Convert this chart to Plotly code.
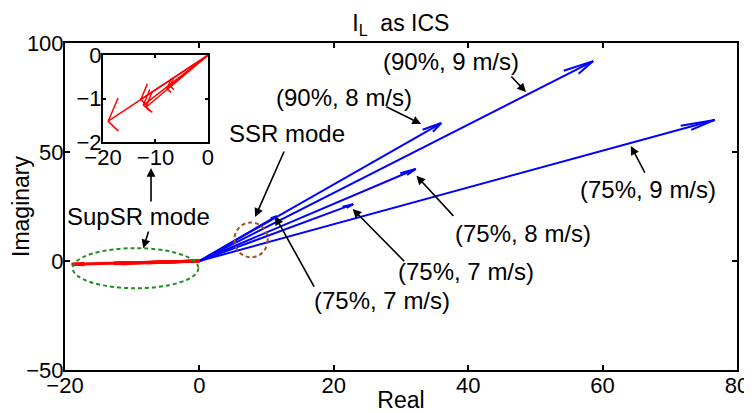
import numpy as np
import plotly.graph_objects as go

# ---------------- data ----------------
# SSR-mode eigen-vectors (blue) and SupSR-mode eigen-vectors (red), complex plane
ssr_real = [58.6, 76.7, 36.0, 32.2, 22.9, 11.5]
ssr_imag = [91.7, 64.7, 63.3, 42.2, 26.1, 20.6]
supsr_real = [-19.0, -12.8, -12.3, -11.8, -7.8, -7.2]
supsr_imag = [-1.52, -1.02, -1.15, -1.20, -0.78, -0.72]

x_ticks = [-20, 0, 20, 40, 60, 80]
y_ticks = [-50, 0, 50, 100]
inset_x_ticks = [-20, -10, 0]
inset_y_ticks = [-2, -1, 0]

label_texts = ["(90%, 9 m/s)", "(90%, 8 m/s)", "SSR mode", "SupSR mode",
               "(75%, 9 m/s)", "(75%, 8 m/s)", "(75%, 7 m/s)", "(75%, 7 m/s)"]

# ---------------- layout helpers (positions / styles) ----------------
FONT = "Liberation Sans, Arial, sans-serif"
label_pos = [(37.4, 91.3), (21.5, 75.2), (13.0, 58.7), (-9.1, 20.2),
             (66.8, 32.6), (48.2, 12.8), (39.7, -5.0), (27.2, -17.9)]
# (tail_x, tail_y, head_x, head_y)
pointer_arrows = [(46.2, 85.3, 48.6, 77.5), (27.6, 71.1, 33.0, 62.8),
                  (12.7, 50.9, 8.3, 20.2), (-7.5, 14.2, -8.35, 5.8),
                  (-7.2, 26.6, -7.2, 42.7), (66.4, 39.8, 64.2, 52.8),
                  (38.0, 20.0, 32.3, 39.1), (30.7, -0.8, 22.8, 23.9),
                  (17.2, -12.5, 11.25, 20.6)]
# ellipses: (cx, cy, rx, ry, colour)
ellipses = [(-9.5, -3.3, 9.35, 9.2, "#1f8f1f"), (7.68, 9.7, 2.48, 8.0, "#a0522d")]


def quiver_xy(us, vs, alpha, beta):
    xs, ys = [], []
    for u, v in zip(us, vs):
        xs += [0, u, None]
        ys += [0, v, None]
        xs += [u - alpha * (u + beta * v), u, u - alpha * (u - beta * v), None]
        ys += [v - alpha * (v - beta * u), v, v - alpha * (v + beta * u), None]
    return xs, ys


bx, by = quiver_xy(ssr_real, ssr_imag, 0.056, 0.216)
rx, ry = quiver_xy(supsr_real, supsr_imag, 0.10, 0.20)

fig = go.Figure()
fig.add_trace(go.Scatter(x=bx, y=by, mode="lines", line=dict(color="#0000ff", width=2),
                         showlegend=False, hoverinfo="skip"))
fig.add_trace(go.Scatter(x=rx, y=ry, mode="lines", line=dict(color="#ff0000", width=3),
                         showlegend=False, hoverinfo="skip"))
fig.add_trace(go.Scatter(x=rx, y=ry, mode="lines", line=dict(color="#ff0000", width=1.5),
                         xaxis="x2", yaxis="y2", showlegend=False, hoverinfo="skip"))

axis_common = dict(showline=True, linecolor="black", linewidth=2, mirror="ticks",
                   ticks="inside", ticklen=5, tickwidth=1.5, tickcolor="black",
                   showgrid=False, zeroline=False, automargin=False,
                   ticklabelstandoff=-5,
                   tickfont=dict(family=FONT, size=22, color="black"))

# page body adds an 8px offset: figure is sized/margined to compensate
fig.update_layout(
    width=744, height=405,
    margin=dict(l=57, r=15, t=35, b=43),
    paper_bgcolor="white", plot_bgcolor="white",
    title=dict(text="I<sub>L</sub>\u00a0 as ICS", x=0.528, xanchor="center",
               y=0.962, yanchor="middle",
               font=dict(family=FONT, size=23, color="black")),
    xaxis=dict(range=[-20, 80], tickvals=x_ticks, **axis_common,
               title=dict(text="Real", standoff=12,
                          font=dict(family=FONT, size=23, color="black"))),
    yaxis=dict(range=[-50, 100], tickvals=y_ticks, **axis_common,
               title=dict(text="Imaginary", standoff=2,
                          font=dict(family=FONT, size=23, color="black"))),
    xaxis2=dict(domain=[0.0565, 0.2128], anchor="y2", range=[-20, 0],
                tickvals=inset_x_ticks, **{**axis_common, "ticklen": 3}),
    yaxis2=dict(domain=[0.697, 0.963], anchor="x2", range=[-2, 0],
                tickvals=inset_y_ticks, **{**axis_common, "ticklen": 3}),
)

for (cx, cy, erx, ery, col) in ellipses:
    fig.add_shape(type="circle", xref="x", yref="y",
                  x0=cx - erx, x1=cx + erx, y0=cy - ery, y1=cy + ery,
                  line=dict(color=col, width=2, dash="4px,3px"), layer="above")

for txt, (lx, ly) in zip(label_texts, label_pos):
    fig.add_annotation(x=lx, y=ly, xref="x", yref="y", text=txt, showarrow=False,
                       font=dict(family=FONT, size=24, color="black"))

for (tx, ty, hx, hy) in pointer_arrows:
    fig.add_annotation(x=hx, y=hy, ax=tx, ay=ty, xref="x", yref="y",
                       axref="x", ayref="y", text="", showarrow=True,
                       arrowhead=2, arrowsize=1.1, arrowwidth=1.6,
                       arrowcolor="black", standoff=0, startstandoff=0)

fig.write_html("out.html")
